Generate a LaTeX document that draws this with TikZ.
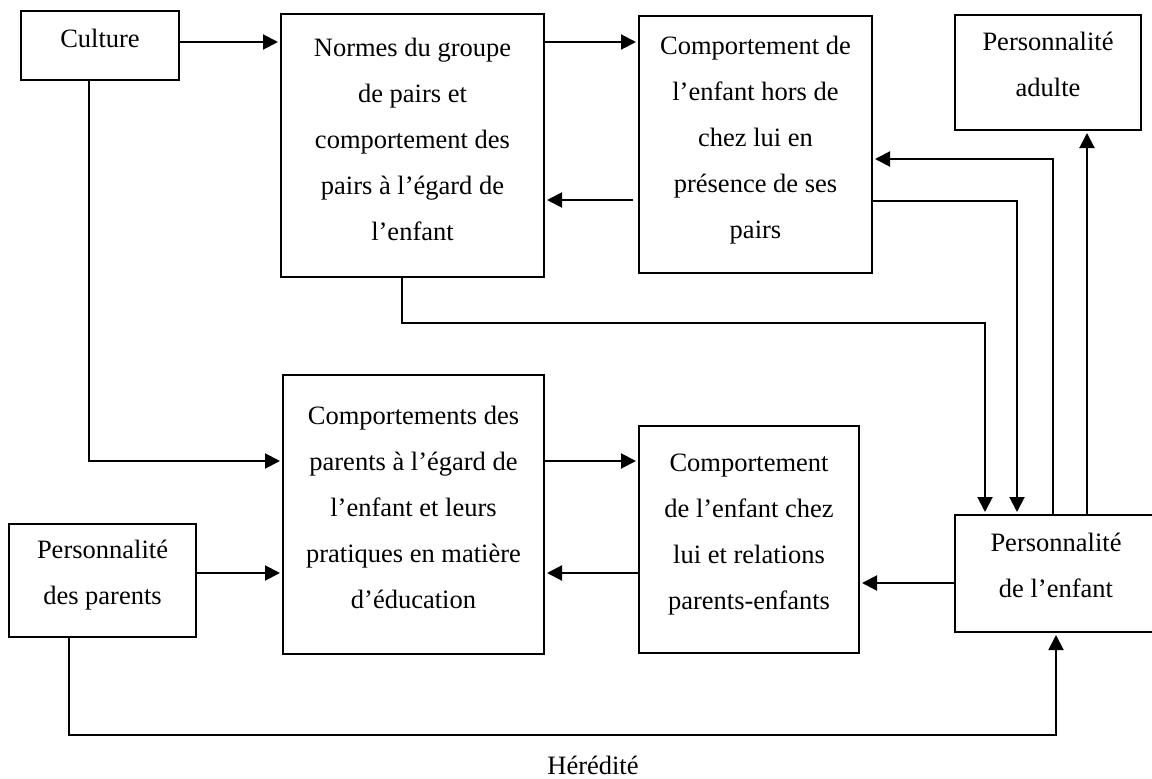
\documentclass[tikz,border=0pt]{standalone}
\usepackage{fontspec}
\setmainfont{Liberation Serif}
\usetikzlibrary{arrows.meta}
\begin{document}
\begin{tikzpicture}[x=1pt,y=-1pt,
  box/.style={draw, line width=2pt, inner sep=0pt},
  txt/.style={align=center, inner sep=0pt, font=\fontsize{26.5}{46}\selectfont},
  arr/.style={line width=2pt, -{Triangle[length=15pt,width=15pt]}, shorten >=2pt}]
\useasboundingbox (0,0) rectangle (1152,779);
\fill[white] (0,0) rectangle (1152,779);

% boxes
\node[box, minimum width=158pt, minimum height=69pt]  (culture) at (100,45.5) {};
\node[box, minimum width=263pt, minimum height=263pt] (normes) at (412.5,145.5) {};
\node[box, minimum width=233pt, minimum height=257pt] (hors) at (755.5,144.5) {};
\node[box, minimum width=186pt, minimum height=115pt] (adulte) at (1048,72.5) {};
\node[box, minimum width=261pt, minimum height=279pt] (parbeh) at (413.5,514.5) {};
\node[box, minimum width=220pt, minimum height=227pt] (chez) at (749,539.5) {};
\node[box, minimum width=187pt, minimum height=113pt] (perspar) at (102.5,580.5) {};
\node[box, minimum width=202pt, minimum height=117pt] (enfant) at (1056,573.5) {};

% texts
\node[txt] (culture-t) at (100,38.5) {\strut Culture\strut};
\node[txt] (normes-t) at (412.5,139.2) {\strut Normes du groupe\\de pairs et\\comportement des\\pairs à l’égard de\\l’enfant\strut};
\node[txt] (hors-t) at (755.5,136.8) {\strut Comportement de\\l’enfant hors de\\chez lui en\\présence de ses\\pairs\strut};
\node[txt] (adulte-t) at (1048,64.3) {\strut Personnalité\\adulte\strut};
\node[txt] (parbeh-t) at (413.5,507.2) {\strut Comportements des\\parents à l’égard de\\l’enfant et leurs\\pratiques en matière\\d’éducation\strut};
\node[txt] (chez-t) at (749,531) {\strut Comportement\\de l’enfant chez\\lui et relations\\parents-enfants\strut};
\node[txt] (perspar-t) at (102.5,572.3) {\strut Personnalité\\des parents\strut};
\node[txt] (enfant-t) at (1056,565.3) {\strut Personnalité\\de l’enfant\strut};
\node[txt, anchor=base] (heredite) at (593,774) {Hérédité};

% connectors
\draw[arr] (culture.east |- 0,42) -- (normes.west |- 0,42);
\draw[arr] (normes.east |- 0,42) -- (hors.west |- 0,42);
\draw[arr, shorten <=5pt] (hors.west |- 0,200) -- (normes.east |- 0,200);
\draw[arr] (culture.south -| 89,0) |- (parbeh.west |- 0,461);
\draw[arr] (parbeh.east |- 0,461) -- (chez.west |- 0,461);
\draw[arr] (chez.west |- 0,573) -- (parbeh.east |- 0,573);
\draw[arr] (perspar.east |- 0,573) -- (parbeh.west |- 0,573);
\draw[arr] (enfant.west |- 0,583) -- (chez.east |- 0,583);
\draw[arr] (normes.south -| 402,0) -- (402,323) -- (985,323) -- (enfant.north -| 985,0);
\draw[arr] (hors.east |- 0,201) -| (enfant.north -| 1017,0);
\draw[arr] (enfant.north -| 1053,0) |- (hors.east |- 0,159);
\draw[arr] (enfant.north -| 1087,0) -- (adulte.south -| 1087,0);
\draw[arr] (perspar.south -| 69,0) |- (1056,735) -- (enfant.south);
\end{tikzpicture}
\end{document}
